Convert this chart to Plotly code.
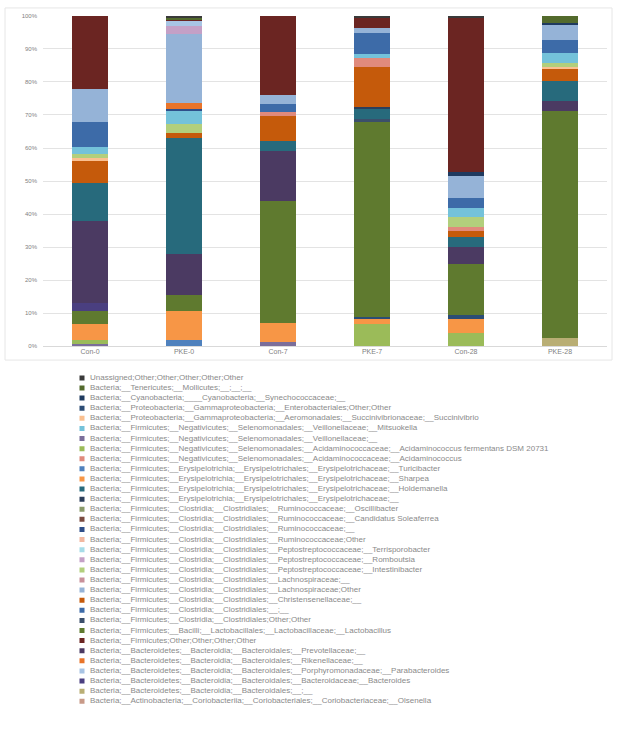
import plotly.graph_objects as go

W, H = 621, 734

samples = ["Con-0", "PKE-0", "Con-7", "PKE-7", "Con-28", "PKE-28"]
y_ticks = [0, 10, 20, 30, 40, 50, 60, 70, 80, 90, 100]
y_tick_labels = ["0%", "10%", "20%", "30%", "40%", "50%", "60%", "70%", "80%", "90%", "100%"]

# Legend entries, listed top to bottom as in the reference
legend_names = [
    "Unassigned;Other;Other;Other;Other;Other",
    "Bacteria;__Tenericutes;__Mollicutes;__;__;__",
    "Bacteria;__Cyanobacteria;____Cyanobacteria;__Synechococcaceae;__",
    "Bacteria;__Proteobacteria;__Gammaproteobacteria;__Enterobacteriales;Other;Other",
    "Bacteria;__Proteobacteria;__Gammaproteobacteria;__Aeromonadales;__Succinivibrionaceae;__Succinivibrio",
    "Bacteria;__Firmicutes;__Negativicutes;__Selenomonadales;__Veillonellaceae;__Mitsuokella",
    "Bacteria;__Firmicutes;__Negativicutes;__Selenomonadales;__Veillonellaceae;__",
    "Bacteria;__Firmicutes;__Negativicutes;__Selenomonadales;__Acidaminococcaceae;__Acidaminococcus fermentans DSM 20731",
    "Bacteria;__Firmicutes;__Negativicutes;__Selenomonadales;__Acidaminococcaceae;__Acidaminococcus",
    "Bacteria;__Firmicutes;__Erysipelotrichia;__Erysipelotrichales;__Erysipelotrichaceae;__Turicibacter",
    "Bacteria;__Firmicutes;__Erysipelotrichia;__Erysipelotrichales;__Erysipelotrichaceae;__Sharpea",
    "Bacteria;__Firmicutes;__Erysipelotrichia;__Erysipelotrichales;__Erysipelotrichaceae;__Holdemanella",
    "Bacteria;__Firmicutes;__Erysipelotrichia;__Erysipelotrichales;__Erysipelotrichaceae;__",
    "Bacteria;__Firmicutes;__Clostridia;__Clostridiales;__Ruminococcaceae;__Oscillibacter",
    "Bacteria;__Firmicutes;__Clostridia;__Clostridiales;__Ruminococcaceae;__Candidatus Soleaferrea",
    "Bacteria;__Firmicutes;__Clostridia;__Clostridiales;__Ruminococcaceae;__",
    "Bacteria;__Firmicutes;__Clostridia;__Clostridiales;__Ruminococcaceae;Other",
    "Bacteria;__Firmicutes;__Clostridia;__Clostridiales;__Peptostreptococcaceae;__Terrisporobacter",
    "Bacteria;__Firmicutes;__Clostridia;__Clostridiales;__Peptostreptococcaceae;__Romboutsia",
    "Bacteria;__Firmicutes;__Clostridia;__Clostridiales;__Peptostreptococcaceae;__Intestinibacter",
    "Bacteria;__Firmicutes;__Clostridia;__Clostridiales;__Lachnospiraceae;__",
    "Bacteria;__Firmicutes;__Clostridia;__Clostridiales;__Lachnospiraceae;Other",
    "Bacteria;__Firmicutes;__Clostridia;__Clostridiales;__Christensenellaceae;__",
    "Bacteria;__Firmicutes;__Clostridia;__Clostridiales;__;__",
    "Bacteria;__Firmicutes;__Clostridia;__Clostridiales;Other;Other",
    "Bacteria;__Firmicutes;__Bacilli;__Lactobacillales;__Lactobacillaceae;__Lactobacillus",
    "Bacteria;__Firmicutes;Other;Other;Other;Other",
    "Bacteria;__Bacteroidetes;__Bacteroidia;__Bacteroidales;__Prevotellaceae;__",
    "Bacteria;__Bacteroidetes;__Bacteroidia;__Bacteroidales;__Rikenellaceae;__",
    "Bacteria;__Bacteroidetes;__Bacteroidia;__Bacteroidales;__Porphyromonadaceae;__Parabacteroides",
    "Bacteria;__Bacteroidetes;__Bacteroidia;__Bacteroidales;__Bacteroidaceae;__Bacteroides",
    "Bacteria;__Bacteroidetes;__Bacteroidia;__Bacteroidales;__;__",
    "Bacteria;__Actinobacteria;__Coriobacteriia;__Coriobacteriales;__Coriobacteriaceae;__Olsenella",
]

# Relative abundance (%) per sample: Con-0, PKE-0, Con-7, PKE-7, Con-28, PKE-28
unassigned          = [0.0, 0.5, 0.0, 0.6, 0.6, 0.0]
tenericutes         = [0.0, 0.5, 0.0, 0.0, 0.0, 2.3]
cyanobacteria       = [0.0, 0.0, 0.0, 0.0, 1.2, 0.4]
enterobacteriales   = [0.0, 0.0, 0.0, 0.4, 1.2, 0.0]
succinivibrio       = [1.0, 0.0, 0.0, 0.0, 0.0, 0.5]
mitsuokella         = [2.0, 3.9, 0.0, 1.2, 2.7, 3.0]
veillonellaceae     = [0.8, 0.0, 1.2, 0.0, 0.0, 0.0]
acid_fermentans     = [1.2, 0.0, 0.0, 6.8, 3.9, 0.0]
acidaminococcus     = [0.0, 0.0, 1.2, 2.8, 1.0, 0.0]
turicibacter        = [0.0, 2.0, 0.0, 0.0, 0.0, 0.0]
sharpea             = [4.8, 8.5, 5.8, 1.5, 4.3, 0.0]
holdemanella        = [11.5, 35.0, 3.2, 3.2, 3.2, 6.1]
erysipelotrichaceae = [0.0, 0.0, 0.0, 0.5, 0.0, 0.0]
oscillibacter       = [0.0, 0.0, 0.0, 0.0, 0.0, 0.0]
soleaferrea         = [0.0, 0.0, 0.0, 0.0, 0.0, 0.0]
ruminococcaceae     = [0.0, 0.6, 0.0, 0.0, 0.0, 0.0]
ruminococcaceae_oth = [0.0, 0.0, 0.0, 0.0, 0.0, 0.0]
terrisporobacter    = [0.0, 0.0, 0.0, 0.0, 0.0, 0.0]
romboutsia          = [0.0, 2.4, 0.0, 0.0, 0.0, 0.0]
intestinibacter     = [1.2, 2.8, 0.0, 0.0, 3.0, 1.3]
lachnospiraceae     = [0.0, 0.0, 0.0, 0.0, 0.0, 0.0]
lachnospiraceae_oth = [10.2, 20.9, 2.8, 1.5, 6.4, 4.6]
christensenellaceae = [6.5, 1.6, 7.6, 12.0, 1.8, 3.6]
clostridiales       = [7.6, 0.0, 2.4, 6.4, 3.3, 3.9]
clostridiales_oth   = [0.0, 0.0, 0.0, 0.8, 0.0, 0.0]
lactobacillus       = [3.7, 5.0, 37.1, 59.3, 15.6, 68.9]
firmicutes_oth      = [22.0, 0.5, 23.8, 3.0, 46.8, 0.0]
prevotellaceae      = [25.0, 12.5, 14.9, 0.0, 5.0, 3.0]
rikenellaceae       = [0.0, 1.8, 0.0, 0.0, 0.0, 0.0]
parabacteroides     = [0.0, 1.5, 0.0, 0.0, 0.0, 0.0]
bacteroides         = [2.5, 0.0, 0.0, 0.0, 0.0, 0.0]
bacteroidales       = [0.0, 0.0, 0.0, 0.0, 0.0, 2.4]
olsenella           = [0.0, 0.0, 0.0, 0.0, 0.0, 0.0]

# values in legend order (same order as legend_names)
legend_values = [
    unassigned, tenericutes, cyanobacteria, enterobacteriales, succinivibrio,
    mitsuokella, veillonellaceae, acid_fermentans, acidaminococcus, turicibacter,
    sharpea, holdemanella, erysipelotrichaceae, oscillibacter, soleaferrea,
    ruminococcaceae, ruminococcaceae_oth, terrisporobacter, romboutsia, intestinibacter,
    lachnospiraceae, lachnospiraceae_oth, christensenellaceae, clostridiales, clostridiales_oth,
    lactobacillus, firmicutes_oth, prevotellaceae, rikenellaceae, parabacteroides,
    bacteroides, bacteroidales, olsenella,
]

# style: colour per legend entry
legend_colors = [
    "#3a3a3a", "#536a2c", "#1f3a5f", "#2c4d75", "#fac090",
    "#74c2da", "#7b6e9a", "#9bbb59", "#e08a7c", "#4f81bd",
    "#f79646", "#276a7c", "#2c3e5a", "#8a9a6a", "#7a4a40",
    "#2f4f8a", "#f2b8a0", "#a6dce8", "#c4a0c6", "#b2cf7c",
    "#c8909a", "#95b3d7", "#c55a0b", "#3d6ba8", "#3b4f6b",
    "#5f7a2f", "#6b2522", "#4b3a62", "#e8742a", "#a8c4e4",
    "#4a3f80", "#b9ae74", "#c89a88",
]

# stacking order (bottom -> top), as indices into the legend lists
stack_order = [6, 9, 31, 7, 10, 3, 25, 30, 27, 24, 11, 12, 22, 8, 4, 19, 5,
               15, 28, 23, 21, 18, 29, 2, 26, 1, 0, 13, 14, 16, 17, 20, 32]

fig = go.Figure()

for idx in stack_order:
    fig.add_trace(go.Bar(
        x=samples, y=legend_values[idx], name=legend_names[idx],
        marker=dict(color=legend_colors[idx], line=dict(width=0)),
        showlegend=False, xaxis="x", yaxis="y",
    ))

# custom legend drawn as scatter in a second coordinate system
n = len(legend_names)
rows = list(range(1, n + 1))
fig.add_trace(go.Scatter(
    x=[82] * n, y=rows, mode="markers",
    marker=dict(symbol="square", size=5, color=legend_colors, line=dict(width=0)),
    showlegend=False, hoverinfo="skip", xaxis="x2", yaxis="y2",
))
fig.add_trace(go.Scatter(
    x=[90] * n, y=rows, mode="text", text=legend_names,
    textposition="middle right",
    textfont=dict(size=8, color="#8a8a8a", family="Liberation Sans, Arial, sans-serif"),
    showlegend=False, hoverinfo="skip", xaxis="x2", yaxis="y2",
))

top_px, bot_px = 13, 346
left_px, right_px = 43, 607
leg_top, leg_bot = 378, 704
step = (leg_bot - leg_top) / (n - 1)

fig.update_layout(
    width=W, height=H,
    margin=dict(l=0, r=0, t=0, b=0),
    paper_bgcolor="white", plot_bgcolor="white",
    barmode="stack", bargap=0.617,
    font=dict(family="Liberation Sans, Arial, sans-serif", color="#7f7f7f"),
    xaxis=dict(
        domain=[left_px / W, right_px / W],
        showgrid=False, showline=True, linecolor="#d9d9d9", linewidth=1,
        ticks="", tickfont=dict(size=7, color="#7f7f7f"),
        ticklabelstandoff=-2, anchor="y", fixedrange=True,
    ),
    yaxis=dict(
        domain=[(H - bot_px) / H, (H - top_px) / H],
        range=[0, 100], tickmode="array", tickvals=y_ticks, ticktext=y_tick_labels,
        showgrid=True, gridcolor="#e3e3e3", gridwidth=1,
        zeroline=False, showline=False, ticks="",
        tickfont=dict(size=6, color="#7f7f7f"),
        ticklabelstandoff=5, anchor="x", fixedrange=True,
    ),
    xaxis2=dict(domain=[0, 1], range=[0, W], visible=False, anchor="y2", fixedrange=True),
    yaxis2=dict(
        domain=[(H - (leg_bot + step / 2)) / H, (H - (leg_top - step / 2)) / H],
        range=[n + 0.5, 0.5], visible=False, anchor="x2", fixedrange=True,
    ),
    shapes=[dict(
        type="rect", xref="paper", yref="paper",
        x0=5 / W, x1=612 / W, y0=(H - 360) / H, y1=(H - 5) / H,
        line=dict(color="#e6e6e6", width=1), fillcolor="rgba(0,0,0,0)", layer="below",
    )],
)

fig.write_html(
    "out.html",
    config={"displayModeBar": False},
    post_script="document.body.style.margin='0px';document.body.style.overflow='hidden';",
)
